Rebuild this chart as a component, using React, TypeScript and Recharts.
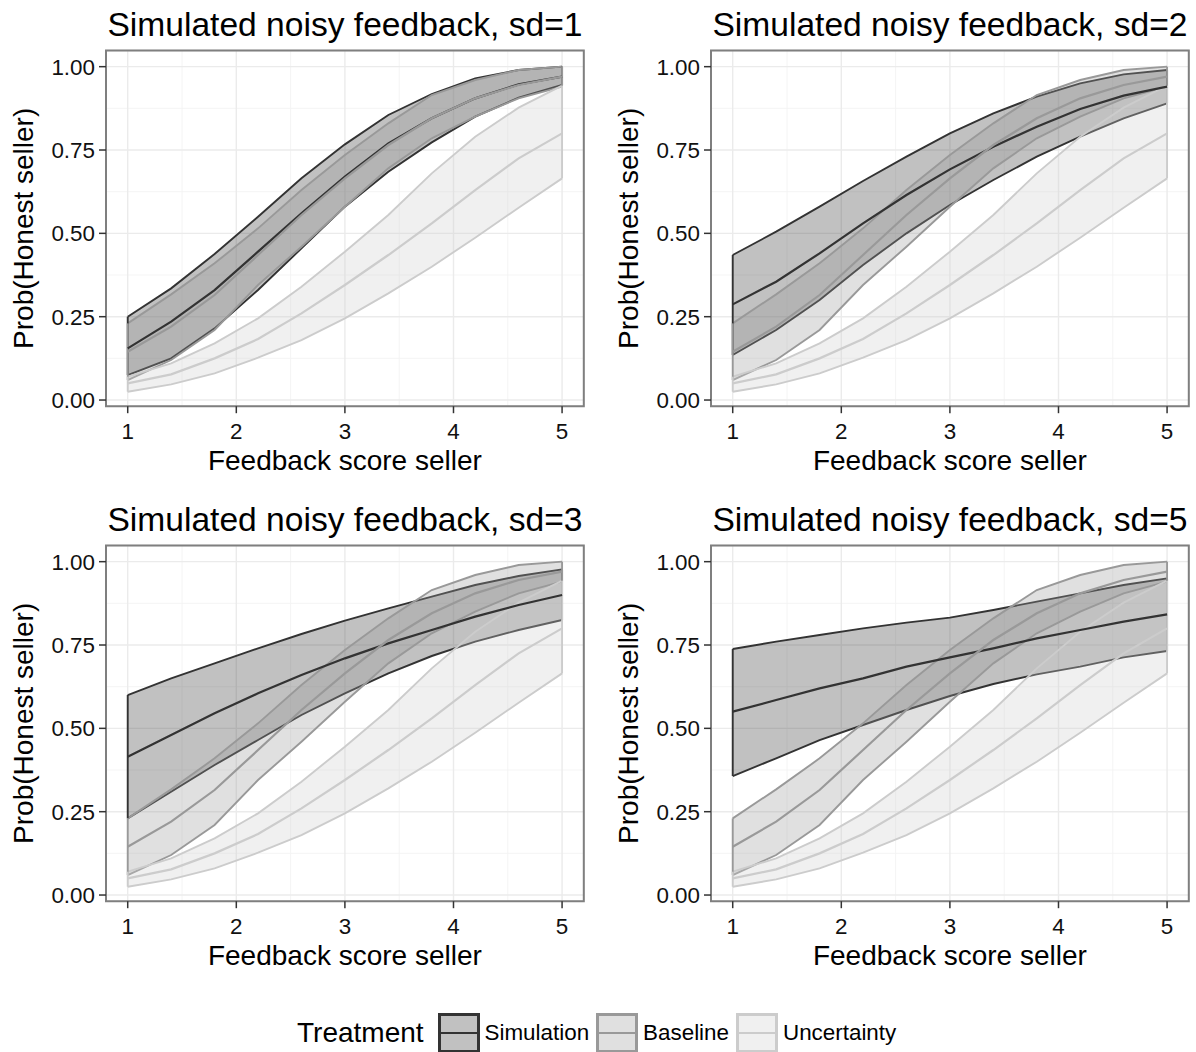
import React from "react";
import {
  ComposedChart,
  Area,
  Line,
  XAxis,
  YAxis,
  CartesianGrid,
  ReferenceArea,
  ReferenceLine,
  Label,
} from "recharts";

const FONT = '"Liberation Sans", Arial, Helvetica, sans-serif';

// feedback score grid (x)
const X = [1, 1.4, 1.8, 2.2, 2.6, 3, 3.4, 3.8, 4.2, 4.6, 5];
const X_TICKS = [1, 2, 3, 4, 5];
const X_MINOR = [1.5, 2.5, 3.5, 4.5];
const Y_TICKS = [0, 0.25, 0.5, 0.75, 1];
const Y_MINOR = [0.125, 0.375, 0.625, 0.875];
const X_DOMAIN = [0.8, 5.2];
const Y_DOMAIN = [-0.0185, 1.0485];

// same in every panel
const uncLo = [0.025, 0.047, 0.08, 0.127, 0.18, 0.245, 0.32, 0.4, 0.487, 0.577, 0.665];
const uncMean = [0.05, 0.077, 0.125, 0.183, 0.26, 0.345, 0.435, 0.53, 0.63, 0.725, 0.8];
const uncHi = [0.07, 0.11, 0.17, 0.245, 0.34, 0.445, 0.555, 0.68, 0.79, 0.877, 0.943];

const baseLo = [0.06, 0.12, 0.21, 0.345, 0.46, 0.58, 0.695, 0.785, 0.85, 0.905, 0.94];
const baseMean = [0.145, 0.22, 0.315, 0.435, 0.555, 0.665, 0.765, 0.845, 0.905, 0.945, 0.97];
const baseHi = [0.23, 0.317, 0.41, 0.515, 0.63, 0.735, 0.83, 0.915, 0.96, 0.99, 1.0];

// simulation, one per noise level
const sim1Lo = [0.075, 0.125, 0.215, 0.33, 0.455, 0.58, 0.685, 0.773, 0.85, 0.907, 0.945];
const sim1Mean = [0.155, 0.235, 0.33, 0.445, 0.56, 0.67, 0.77, 0.845, 0.905, 0.947, 0.97];
const sim1Hi = [0.25, 0.335, 0.438, 0.55, 0.665, 0.767, 0.855, 0.918, 0.965, 0.99, 1.0];

const sim2Lo = [0.135, 0.21, 0.3, 0.405, 0.5, 0.585, 0.66, 0.73, 0.79, 0.845, 0.89];
const sim2Mean = [0.287, 0.355, 0.44, 0.53, 0.615, 0.692, 0.76, 0.82, 0.873, 0.913, 0.94];
const sim2Hi = [0.435, 0.505, 0.58, 0.657, 0.73, 0.8, 0.86, 0.91, 0.95, 0.977, 0.99];

const sim3Lo = [0.23, 0.31, 0.39, 0.465, 0.54, 0.605, 0.665, 0.717, 0.76, 0.795, 0.825];
const sim3Mean = [0.415, 0.48, 0.545, 0.605, 0.66, 0.71, 0.755, 0.795, 0.835, 0.87, 0.9];
const sim3Hi = [0.6, 0.65, 0.695, 0.74, 0.783, 0.823, 0.86, 0.895, 0.93, 0.957, 0.977];

const sim5Lo = [0.357, 0.41, 0.465, 0.51, 0.555, 0.597, 0.633, 0.662, 0.685, 0.713, 0.732];
const sim5Mean = [0.55, 0.585, 0.62, 0.65, 0.685, 0.713, 0.74, 0.77, 0.795, 0.82, 0.842];
const sim5Hi = [0.738, 0.76, 0.78, 0.8, 0.817, 0.832, 0.855, 0.88, 0.905, 0.93, 0.95];

const TREATMENTS = ["Simulation", "Baseline", "Uncertainty"];
const COLORS: Record<string, string> = {
  Simulation: "#333333",
  Baseline: "#999999",
  Uncertainty: "#cccccc",
};

const PANELS = [
  { title: "Simulated noisy feedback, sd=1", lo: sim1Lo, mean: sim1Mean, hi: sim1Hi, left: 0, top: 0 },
  { title: "Simulated noisy feedback, sd=2", lo: sim2Lo, mean: sim2Mean, hi: sim2Hi, left: 605, top: 0 },
  { title: "Simulated noisy feedback, sd=3", lo: sim3Lo, mean: sim3Mean, hi: sim3Hi, left: 0, top: 495 },
  { title: "Simulated noisy feedback, sd=5", lo: sim5Lo, mean: sim5Mean, hi: sim5Hi, left: 605, top: 495 },
];

type Band = { name: string; lo: number[]; mean: number[]; hi: number[] };

function Panel({ title, lo, mean, hi, left, top }: (typeof PANELS)[number]) {
  const bands: Band[] = [
    { name: "Simulation", lo, mean, hi },
    { name: "Baseline", lo: baseLo, mean: baseMean, hi: baseHi },
    { name: "Uncertainty", lo: uncLo, mean: uncMean, hi: uncHi },
  ];
  const data = X.map((x, i) => {
    const row: Record<string, number> = { x };
    bands.forEach((b) => {
      row[b.name + "Lo"] = b.lo[i];
      row[b.name + "Mean"] = b.mean[i];
      row[b.name + "Hi"] = b.hi[i];
    });
    return row;
  });
  const last = X.length - 1;
  const tick = { fontSize: 22.4, fill: "#111" };

  return (
    <div style={{ position: "absolute", left, top, width: 600, height: 495 }}>
      <ComposedChart width={600} height={495} data={data} margin={{ top: 50.5, right: 16.2, left: 0, bottom: 28.8 }}>
        <XAxis xAxisId="minor" type="number" dataKey="x" domain={X_DOMAIN} ticks={X_MINOR} hide allowDataOverflow />
        <YAxis yAxisId="minor" type="number" domain={Y_DOMAIN} ticks={Y_MINOR} hide allowDataOverflow />
        <CartesianGrid xAxisId="minor" yAxisId="minor" stroke="#f3f3f3" strokeWidth={0.9} />
        <CartesianGrid stroke="#ebebeb" strokeWidth={1.4} />
        <XAxis
          type="number"
          dataKey="x"
          domain={X_DOMAIN}
          ticks={X_TICKS}
          interval={0}
          allowDataOverflow
          axisLine={false}
          tickSize={7}
          tickMargin={10}
          tickLine={{ stroke: "#333", strokeWidth: 1.5 }}
          tick={tick}
          height={60}
        >
          <Label
            content={(p: any) => (
              <text x={p.viewBox.x + p.viewBox.width / 2} y={p.viewBox.y + 64} textAnchor="middle" fontSize={28} fill="#000">
                Feedback score seller
              </text>
            )}
          />
        </XAxis>
        <YAxis
          type="number"
          domain={Y_DOMAIN}
          ticks={Y_TICKS}
          interval={0}
          allowDataOverflow
          axisLine={false}
          tickSize={7}
          tickMargin={4}
          tickLine={{ stroke: "#333", strokeWidth: 1.5 }}
          tick={tick}
          tickFormatter={(v: number) => v.toFixed(2)}
          width={106}
        >
          <Label
            content={(p: any) => {
              const x = p.viewBox.x + 33;
              const cy = p.viewBox.y + p.viewBox.height / 2;
              return (
                <text x={x} y={cy} transform={`rotate(-90, ${x}, ${cy})`} textAnchor="middle" fontSize={28} fill="#000">
                  Prob(Honest seller)
                </text>
              );
            }}
          />
        </YAxis>
        {bands.map((b) => (
          <Area
            key={b.name + "-ribbon"}
            type="linear"
            dataKey={(d: any) => [d[b.name + "Lo"], d[b.name + "Hi"]]}
            fill={COLORS[b.name]}
            fillOpacity={0.3}
            stroke={COLORS[b.name]}
            strokeWidth={1.9}
            dot={false}
            activeDot={false}
            isAnimationActive={false}
          />
        ))}
        {bands.map((b) =>
          [0, last].map((i) => (
            <ReferenceLine
              key={b.name + "-edge-" + i}
              segment={[
                { x: X[i], y: b.lo[i] },
                { x: X[i], y: b.hi[i] },
              ]}
              stroke={COLORS[b.name]}
              strokeWidth={1.9}
              ifOverflow="visible"
            />
          ))
        )}
        {bands.map((b) => (
          <Line
            key={b.name + "-mean"}
            type="linear"
            dataKey={b.name + "Mean"}
            stroke={COLORS[b.name]}
            strokeWidth={2.2}
            dot={false}
            activeDot={false}
            isAnimationActive={false}
          />
        ))}
        <ReferenceArea
          x1={X_DOMAIN[0]}
          x2={X_DOMAIN[1]}
          y1={Y_DOMAIN[0]}
          y2={Y_DOMAIN[1]}
          fill="none"
          stroke="#7f7f7f"
          strokeWidth={2}
          ifOverflow="visible"
        />
      </ComposedChart>
      <div
        style={{
          position: "absolute",
          left: 106,
          width: 478,
          top: 5,
          textAlign: "center",
          fontSize: 33.6,
          lineHeight: "40px",
          color: "#000",
          whiteSpace: "nowrap",
        }}
      >
        {title}
      </div>
    </div>
  );
}

function LegendKey({ name }: { name: string }) {
  const c = COLORS[name];
  return (
    <svg width={42} height={40} style={{ display: "block" }}>
      <rect x={1.5} y={1.5} width={39} height={37} fill={c} fillOpacity={0.3} stroke={c} strokeWidth={3} />
      <line x1={1.5} x2={40.5} y1={20} y2={20} stroke={c} strokeWidth={2} />
    </svg>
  );
}

export default function App() {
  return (
    <div
      style={{
        position: "absolute",
        left: 0,
        top: 0,
        width: 1196,
        height: 1052,
        background: "#fff",
        fontFamily: FONT,
        overflow: "hidden",
      }}
    >
      {PANELS.map((p) => (
        <Panel key={p.title} {...p} />
      ))}
      <div
        style={{
          position: "absolute",
          left: 297,
          top: 1013,
          height: 40,
          display: "flex",
          alignItems: "center",
          whiteSpace: "nowrap",
          color: "#000",
        }}
      >
        <span style={{ fontSize: 28, marginRight: 14 }}>Treatment</span>
        {TREATMENTS.map((t) => (
          <React.Fragment key={t}>
            <LegendKey name={t} />
            <span style={{ fontSize: 22.4, marginLeft: 5, marginRight: 7 }}>{t}</span>
          </React.Fragment>
        ))}
      </div>
    </div>
  );
}
